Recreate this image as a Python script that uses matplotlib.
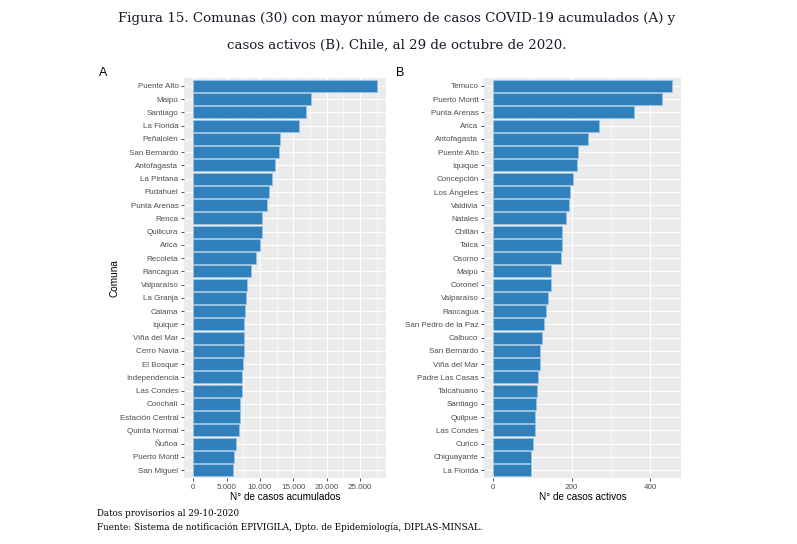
import matplotlib
matplotlib.use("Agg")
import matplotlib.pyplot as plt
from matplotlib.ticker import FixedLocator, FuncFormatter

comunas_a = ["Puente Alto", "Maipú", "Santiago", "La Florida", "Peñalolén", "San Bernardo",
             "Antofagasta", "La Pintana", "Pudahuel", "Punta Arenas", "Renca", "Quilicura",
             "Arica", "Recoleta", "Rancagua", "Valparaíso", "La Granja", "Calama", "Iquique",
             "Viña del Mar", "Cerro Navia", "El Bosque", "Independencia", "Las Condes",
             "Conchalí", "Estación Central", "Quinta Normal", "Ñuñoa", "Puerto Montt", "San Miguel"]
casos_a = [27500, 17600, 16950, 15800, 12960, 12900, 12300, 11850, 11350, 11100, 10350, 10300,
           9950, 9450, 8700, 8000, 7850, 7800, 7650, 7600, 7550, 7400, 7300, 7280, 7050, 7000,
           6900, 6450, 6050, 6030]

comunas_b = ["Temuco", "Puerto Montt", "Punta Arenas", "Arica", "Antofagasta", "Puente Alto",
             "Iquique", "Concepción", "Los Ángeles", "Valdivia", "Natales", "Chillán", "Talca",
             "Osorno", "Maipú", "Coronel", "Valparaíso", "Rancagua", "San Pedro de la Paz",
             "Calbuco", "San Bernardo", "Viña del Mar", "Padre Las Casas", "Talcahuano",
             "Santiago", "Quilpue", "Las Condes", "Curicó", "Chiguayante", "La Florida"]
casos_b = [456, 430, 358, 270, 243, 217, 213, 204, 197, 193, 185, 176, 175, 173, 148, 147, 140,
           134, 129, 124, 121, 121, 115, 112, 110, 107, 107, 102, 97, 96]

ticks_a = [0, 5000, 10000, 15000, 20000, 25000]
ticks_b = [0, 200, 400]

W, H = 797, 544
fig = plt.figure(figsize=(W / 100, H / 100), dpi=100)
SANS = "Liberation Sans"
SERIF = "DejaVu Serif"
BAR = "#2F80BB"
TICKFS = 5.8

def fmt_thousands(v, pos):
    return f"{int(v):,}".replace(",", ".")

def panel(rect, names, vals, ticks, minor, xlabel, fmt):
    ax = fig.add_axes(rect)
    ax.set_facecolor("#EBEBEB")
    n = len(names)
    ys = list(range(n))
    ax.barh(ys, vals, height=0.9, color=BAR, edgecolor="#9CC3E0", linewidth=0.6, zorder=3)
    m = max(vals)
    ax.set_xlim(-0.05 * m, 1.05 * m)
    ax.set_ylim(n - 1 + 0.6, -0.6)
    ax.set_yticks(ys)
    ax.set_yticklabels(names, fontsize=TICKFS, color="#4D4D4D", family=SANS)
    ax.xaxis.set_major_locator(FixedLocator(ticks))
    ax.xaxis.set_minor_locator(FixedLocator(minor))
    ax.xaxis.set_major_formatter(FuncFormatter(fmt))
    for lab in ax.get_xticklabels():
        lab.set_fontsize(TICKFS); lab.set_color("#4D4D4D"); lab.set_family(SANS)
    ax.grid(True, which="major", axis="both", color="white", linewidth=0.8, zorder=0)
    ax.grid(True, which="minor", axis="x", color="white", linewidth=0.4, zorder=0)
    ax.set_axisbelow(True)
    for s in ax.spines.values():
        s.set_visible(False)
    ax.tick_params(axis="both", which="major", length=2.5, width=0.6, color="#333333", pad=1.5)
    ax.tick_params(axis="x", which="minor", length=0)
    ax.set_xlabel(xlabel, fontsize=7.2, family=SANS)
    ax.xaxis.set_label_coords(0.5, -(497 - 478) / 400, transform=ax.transAxes)
    ax.xaxis.label.set_va("center")
    return ax

axA = panel([184 / W, 1 - 478 / H, 202 / W, 400 / H], comunas_a, casos_a, ticks_a,
            [2500, 7500, 12500, 17500, 22500, 27500], "N° de casos acumulados", fmt_thousands)
axA.set_ylabel("Comuna", fontsize=7.2, family=SANS, va="center")
axA.yaxis.set_label_coords(-(184 - 115) / 202, 0.5, transform=axA.transAxes)
axB = panel([484 / W, 1 - 478 / H, 197 / W, 400 / H], comunas_b, casos_b, ticks_b,
            [100, 300], "N° de casos activos", lambda v, p: f"{int(v)}")

fig.text(103 / W, 1 - 73 / H, "A", fontsize=9, family=SANS, ha="center", va="center")
fig.text(400 / W, 1 - 73 / H, "B", fontsize=9, family=SANS, ha="center", va="center")

fig.text(397 / W, 1 - 18 / H,
         "Figura 15. Comunas (30) con mayor número de casos COVID-19 acumulados (A) y",
         fontsize=9.6, family=SERIF, ha="center", va="center", color="#1a1a2a")
fig.text(397 / W, 1 - 45 / H, "casos activos (B). Chile, al 29 de octubre de 2020.",
         fontsize=9.6, family=SERIF, ha="center", va="center", color="#1a1a2a")

fig.text(97 / W, 1 - 514 / H, "Datos provisorios al 29-10-2020",
         fontsize=6.3, family=SERIF, ha="left", va="center")
fig.text(97 / W, 1 - 527 / H,
         "Fuente: Sistema de notificación EPIVIGILA, Dpto. de Epidemiología, DIPLAS-MINSAL.",
         fontsize=6.3, family=SERIF, ha="left", va="center")

fig.savefig("out.png", dpi=100)
